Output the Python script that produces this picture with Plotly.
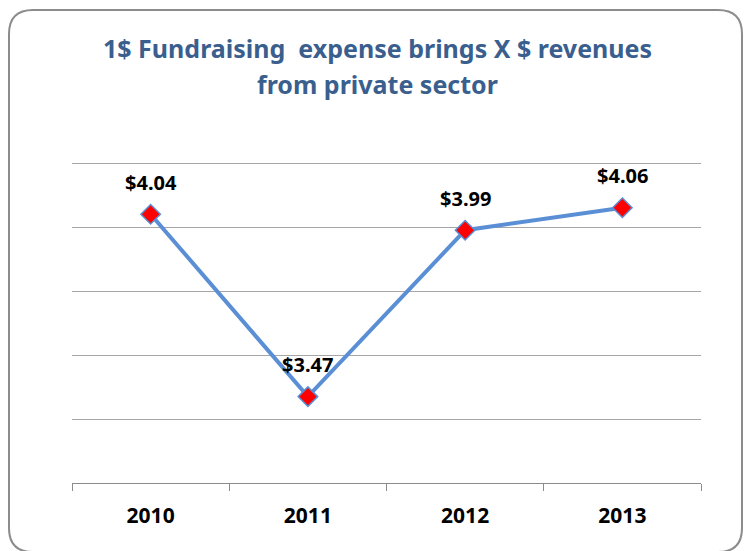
import plotly.graph_objects as go

years = ["2010", "2011", "2012", "2013"]
values = [4.04, 3.47, 3.99, 4.06]
labels = ["$4.04", "$3.47", "$3.99", "$4.06"]
title_lines = ["1$ Fundraising  expense brings X $ revenues", "from private sector"]

W, H = 744, 551
YMIN, YMAX = 3.2, 4.25
PXU = 320.0  # pixels per unit
L, R, B = 72, 701, 483
T = B - (YMAX - YMIN) * PXU

def px(x):
    return (x - L) / (R - L)

def py(y):
    return (B - y) / (B - T)

fig = go.Figure()
fig.add_trace(go.Scatter(
    x=list(range(len(years))), y=values, mode="lines+markers",
    line=dict(color="#5A8FD5", width=4),
    marker=dict(symbol="diamond", size=15, color="#FF0000",
                line=dict(color="#5A8FD5", width=1.5)),
    hoverinfo="skip", showlegend=False, cliponaxis=False,
))

for i, (v, lab) in enumerate(zip(values, labels)):
    fig.add_annotation(x=i, y=v, xref="x", yref="y", text="<b>%s</b>" % lab,
                       showarrow=False, yshift=32,
                       font=dict(family="Noto Sans", size=20, color="#000000"))

for line, ypage in zip(title_lines, [48, 84]):
    fig.add_annotation(x=px(377), y=py(ypage), xref="paper", yref="paper",
                       xanchor="center", yanchor="middle", showarrow=False,
                       text="<b>%s</b>" % line,
                       font=dict(family="Noto Sans", size=25, color="#3A5F8E"))

# rounded border
x0, x1, y0, y1, r = 9, 742, 10, 552, 24
path = (f"M {px(x0+r)},{py(y0)} L {px(x1-r)},{py(y0)} Q {px(x1)},{py(y0)} {px(x1)},{py(y0+r)} "
        f"L {px(x1)},{py(y1-r)} Q {px(x1)},{py(y1)} {px(x1-r)},{py(y1)} "
        f"L {px(x0+r)},{py(y1)} Q {px(x0)},{py(y1)} {px(x0)},{py(y1-r)} "
        f"L {px(x0)},{py(y0+r)} Q {px(x0)},{py(y0)} {px(x0+r)},{py(y0)} Z")
fig.add_shape(type="path", path=path, xref="paper", yref="paper",
              line=dict(color="#8C8C8C", width=2), layer="below")

fig.update_layout(
    width=W, height=H,
    margin=dict(l=L, r=W - R, t=T, b=H - B, autoexpand=False),
    paper_bgcolor="white", plot_bgcolor="white",
    xaxis=dict(tickmode="array", tickvals=list(range(len(years))),
               ticktext=["<b>%s</b>" % y for y in years],
               showgrid=False, showline=True, linecolor="#8C8C8C",
               linewidth=1, ticks="", range=[-0.5, 3.5],
               tickfont=dict(family="Noto Sans", size=21, color="#000000"),
               ticklabelstandoff=14, zeroline=False, fixedrange=True),
    xaxis2=dict(overlaying="x", anchor="y", side="bottom", range=[-0.5, 3.5],
                tickmode="array", tickvals=[-0.5, 0.5, 1.5, 2.5, 3.5],
                showticklabels=False, ticks="outside", ticklen=7,
                tickcolor="#8C8C8C", tickwidth=1, showgrid=False,
                showline=False, zeroline=False, fixedrange=True),
    yaxis=dict(range=[YMIN, YMAX], dtick=0.2, tick0=3.2, showgrid=True,
               gridcolor="#A6A6A6", gridwidth=1, showticklabels=False,
               zeroline=False, showline=False, fixedrange=True),
    font=dict(family="Noto Sans"),
)
fig.add_trace(go.Scatter(x=[-0.5], y=[None], xaxis="x2", yaxis="y",
                         mode="markers", showlegend=False, hoverinfo="skip"))

fig.write_html("out.html", config={"displayModeBar": False},
               post_script="document.body.style.margin='0';document.body.style.overflow='hidden';")
